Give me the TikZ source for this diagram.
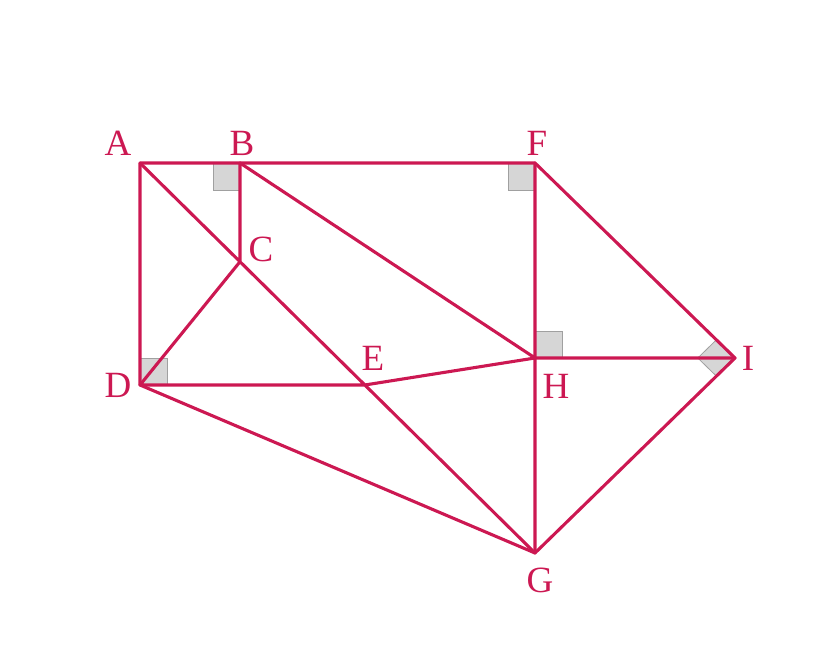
\documentclass[tikz,border=0pt]{standalone}
\usepackage{fontspec}
\setmainfont{Liberation Serif}
\usetikzlibrary{calc}
\definecolor{geored}{RGB}{204,24,82}
\definecolor{markfill}{RGB}{214,214,214}
\definecolor{markedge}{RGB}{160,160,160}
\tikzset{
	seg/.style={geored, line width=3.1pt, line cap=round, line join=round},
	rmark/.style={fill=markfill, draw=markedge, line width=0.8pt},
	lbl/.style={text=geored, inner sep=0pt, font=\fontsize{37}{40}\selectfont}
}
\begin{document}
\begin{tikzpicture}[x=1pt,y=1pt]
	\useasboundingbox (0,0) rectangle (824,652);
	\coordinate (A) at (140,489);
	\coordinate (B) at (240,489);
	\coordinate (F) at (535,489);
	\coordinate (D) at (140,267);
	\coordinate (H) at (535,294);
	\coordinate (I) at (735,294);
	\coordinate (G) at (535,99);
	\coordinate (Bd) at (240,0);
	\coordinate (Dr) at (535,267);
	\coordinate (C) at (intersection of A--G and B--Bd);
	\coordinate (E) at (intersection of A--G and D--Dr);
	\coordinate (Iu) at ($(I)!26pt!(F)$);
	\coordinate (Iv) at ($(I)!26pt!(G)$);
	\coordinate (Iw) at ($(Iu)+(Iv)-(I)$);

	% right angles
	\filldraw[rmark] (B) rectangle ++(-27,-27);
	\filldraw[rmark] (F) rectangle ++(-27,-27);
	\filldraw[rmark] (D) rectangle ++(27,27);
	\filldraw[rmark] (H) rectangle ++(27,27);
	\filldraw[rmark] (I)--(Iu)--(Iw)--(Iv)--cycle;

	\draw[seg] (A)--(F)--(I)--(G)--(D)--cycle;
	\draw[seg] (B)--(C) (A)--(G) (D)--(C) (D)--(E)--(H)--(I);
	\draw[seg] (B)--(H) (F)--(G);

	\node[lbl] (lA) at (118,509) {A};
	\node[lbl] (lB) at (242,509) {B};
	\node[lbl] (lF) at (537,509) {F};
	\node[lbl] (lC) at (261,403) {C};
	\node[lbl] (lD) at (118,267) {D};
	\node[lbl] (lE) at (373,294) {E};
	\node[lbl] (lH) at (556,266) {H};
	\node[lbl] (lI) at (748,294) {I};
	\node[lbl] (lG) at (540,72) {G};
\end{tikzpicture}
\end{document}
